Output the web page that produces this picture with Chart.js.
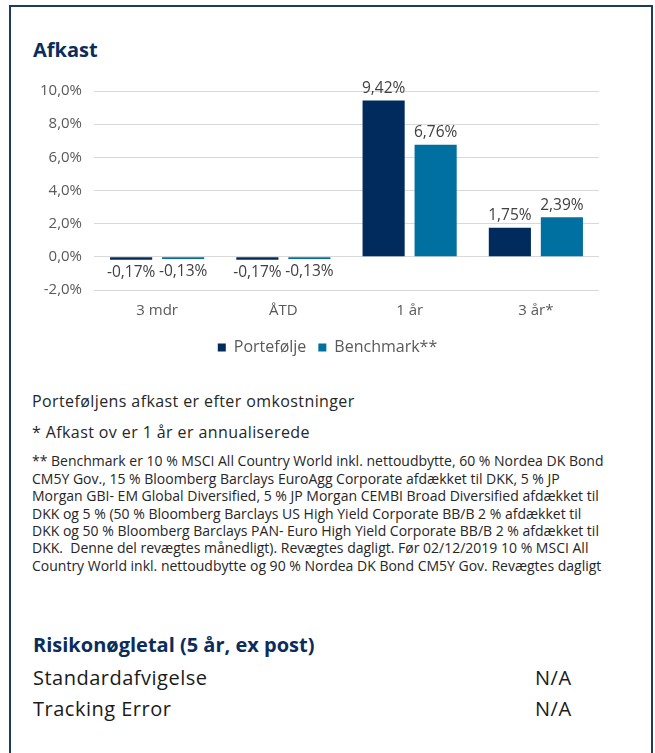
<!DOCTYPE html>
<html>
<head>
<meta charset="utf-8">
<script src="https://cdn.jsdelivr.net/npm/chart.js@4.4.1/dist/chart.umd.min.js"></script>
<style>
html,body{margin:0;padding:0;background:#fff;width:655px;height:753px;overflow:hidden;font-family:"Open Sans",Lato,sans-serif;}
#frame{position:absolute;left:9px;top:5px;width:640px;height:800px;border:2px solid #1d3a63;border-bottom:none;}
.t{position:absolute;white-space:nowrap;}
.head{font-weight:bold;color:#0b2d5b;line-height:24px;left:33px;}
.note{left:32px;font-size:16px;line-height:20px;color:#262626;letter-spacing:0.4px;}
#para{position:absolute;left:32px;top:452.3px;font-size:14px;line-height:17.4px;color:#262626;white-space:nowrap;}
.risk{font-size:20px;line-height:24px;color:#1a1a1a;letter-spacing:0.5px;}
#wrap{position:absolute;left:0;top:70px;width:655px;height:300px;}
</style>
</head>
<body>
<div id="frame"></div>
<div class="t head" id="title" style="top:37.5px;font-size:20px;"></div>
<div id="wrap"><canvas id="c" width="655" height="300"></canvas></div>
<div class="t note" id="n1" style="top:391px;"></div>
<div class="t note" id="n2" style="top:422px;"></div>
<div id="para"></div>
<div class="t head" id="riskTitle" style="top:633px;font-size:20px;"></div>
<div class="t risk" id="r1l" style="left:33px;top:666px;"></div>
<div class="t risk" id="r1v" style="left:535px;top:666px;"></div>
<div class="t risk" id="r2l" style="left:33px;top:697px;"></div>
<div class="t risk" id="r2v" style="left:535px;top:697px;"></div>
<script>
const chartTitle = 'Afkast';
const categories = ['3 mdr', 'ÅTD', '1 år', '3 år*'];
const seriesNames = ['Portefølje', 'Benchmark**'];
const portefolje = [-0.17, -0.17, 9.42, 1.75];
const benchmark = [-0.13, -0.13, 6.76, 2.39];
const yTickValues = [-2, 0, 2, 4, 6, 8, 10];
const notes = ['Porteføljens afkast er efter omkostninger', '* Afkast ov er 1 år er annualiserede'];
const benchmarkNote = [
  '** Benchmark er 10 % MSCI All Country World inkl. nettoudbytte, 60 % Nordea DK Bond',
  'CM5Y Gov., 15 % Bloomberg Barclays EuroAgg Corporate afdækket til DKK, 5 % JP',
  'Morgan GBI- EM Global Diversified, 5 % JP Morgan CEMBI Broad Diversified afdækket til',
  'DKK og 5 % (50 % Bloomberg Barclays US High Yield Corporate BB/B 2 % afdækket til',
  'DKK og 50 % Bloomberg Barclays PAN- Euro High Yield Corporate BB/B 2 % afdækket til',
  'DKK.  Denne del revægtes månedligt). Revægtes dagligt. Før 02/12/2019 10 % MSCI All',
  'Country World inkl. nettoudbytte og 90 % Nordea DK Bond CM5Y Gov. Revægtes dagligt'
];
const riskTitle = 'Risikonøgletal (5 år, ex post)';
const riskLabels = ['Standardafvigelse', 'Tracking Error'];
const riskValues = ['N/A', 'N/A'];

document.getElementById('title').textContent = chartTitle;
document.getElementById('n1').textContent = notes[0];
document.getElementById('n2').textContent = notes[1];
const para = document.getElementById('para');
benchmarkNote.forEach(l => { const d = document.createElement('div'); d.textContent = l; d.style.whiteSpace = 'pre'; para.appendChild(d); });
document.getElementById('riskTitle').textContent = riskTitle;
document.getElementById('r1l').textContent = riskLabels[0];
document.getElementById('r2l').textContent = riskLabels[1];
document.getElementById('r1v').textContent = riskValues[0];
document.getElementById('r2v').textContent = riskValues[1];

const FONT = '"Open Sans"';
const fmt = (v, d) => v.toFixed(d).replace('.', ',') + '%';

const valueLabels = {
  id: 'valueLabels',
  afterDatasetsDraw(chart) {
    const ctx = chart.ctx;
    ctx.save();
    ctx.font = '15.5px ' + FONT;
    ctx.fillStyle = '#404040';
    ctx.textAlign = 'center';
    ctx.textBaseline = 'middle';
    chart.data.datasets.forEach((ds, i) => {
      const meta = chart.getDatasetMeta(i);
      meta.data.forEach((el, j) => {
        const v = ds.data[j];
        const y = v >= 0 ? el.y - 12 : el.y + 12.5;
        ctx.fillText(fmt(v, 2), el.x, y);
      });
    });
    ctx.restore();
  }
};

new Chart(document.getElementById('c'), {
  type: 'bar',
  data: {
    labels: categories,
    datasets: [
      { label: seriesNames[0], data: portefolje, backgroundColor: '#002B5C', categoryPercentage: 0.824, barPercentage: 0.81 },
      { label: seriesNames[1], data: benchmark, backgroundColor: '#0070A0', categoryPercentage: 0.824, barPercentage: 0.81 }
    ]
  },
  options: {
    responsive: false,
    animation: false,
    layout: { padding: { left: 28, right: 28, top: 21, bottom: 4.5 } },
    plugins: {
      legend: {
        position: 'bottom',
        labels: { boxWidth: 8, boxHeight: 8, padding: 12, color: '#595959', font: { family: FONT, size: 16 } }
      },
      tooltip: { enabled: false }
    },
    scales: {
      x: {
        grid: { display: false, drawTicks: false },
        border: { display: false },
        ticks: { padding: 12, color: '#595959', font: { family: FONT, size: 15 } },
        afterFit(s) { s.height = 37.5; }
      },
      y: {
        min: -2, max: 10,
        afterBuildTicks(s) { s.ticks = yTickValues.map(v => ({ value: v })); },
        grid: { color: '#d9d9d9', lineWidth: 1, drawTicks: false },
        border: { display: false },
        ticks: { padding: 12, color: '#595959', font: { family: FONT, size: 15 }, callback: v => fmt(v, 1) },
        afterFit(s) { s.width = 66; }
      },
      yR: {
        position: 'right', display: true, min: 0, max: 1,
        grid: { display: false, drawTicks: false },
        border: { display: false },
        ticks: { display: false },
        afterFit(s) { s.width = 28; }
      }
    }
  },
  plugins: [valueLabels]
});
</script>
</body>
</html>
